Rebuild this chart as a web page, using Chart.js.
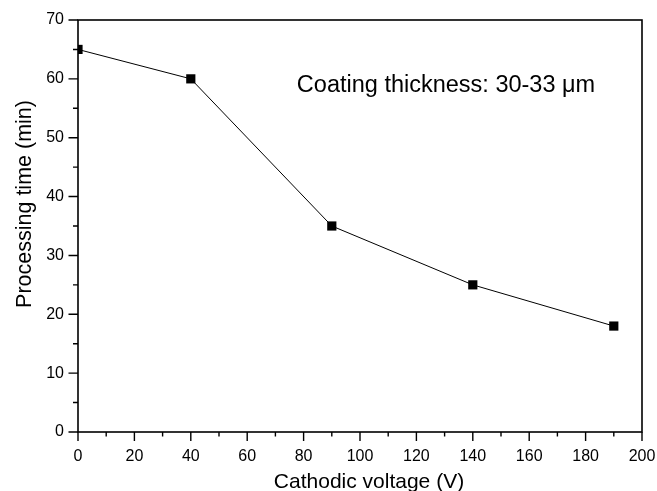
<!DOCTYPE html>
<html>
<head>
<meta charset="utf-8">
<script src="https://cdn.jsdelivr.net/npm/chart.js@4"></script>
<style>
  html, body { margin: 0; padding: 0; background: #fff; }
  #wrap { width: 657px; height: 491px; }
</style>
</head>
<body>
<div id="wrap"><canvas id="chart" width="657" height="491"></canvas></div>
<script>
const voltage = [0, 40, 90, 140, 190];
const procTime = [65, 60, 35, 25, 18];
const xTitle = 'Cathodic voltage (V)';
const yTitle = 'Processing time (min)';
const note = 'Coating thickness: 30-33 μm';

const FONT = '"Liberation Sans", Arial, sans-serif';

// frame, ticks (major + minor), titles, note
const frame = {
  id: 'frame',
  afterDraw(chart) {
    const {ctx, chartArea: {left, right, top, bottom}} = chart;
    const xs = chart.scales.x, ys = chart.scales.y;
    ctx.save();
    ctx.strokeStyle = '#000';
    ctx.lineWidth = 1.6;
    ctx.strokeRect(left, top, right - left, bottom - top);

    ctx.lineWidth = 1.4;
    ctx.beginPath();
    for (let v = 0; v <= 200; v += 10) {
      const px = xs.getPixelForValue(v);
      const len = v % 20 === 0 ? 9 : 4.5;
      ctx.moveTo(px, bottom);
      ctx.lineTo(px, bottom + len);
    }
    for (let v = 0; v <= 70; v += 5) {
      const py = ys.getPixelForValue(v);
      const len = v % 10 === 0 ? 9.5 : 5;
      ctx.moveTo(left, py);
      ctx.lineTo(left - len, py);
    }
    ctx.stroke();

    ctx.fillStyle = '#000';
    ctx.font = '21px ' + FONT;
    ctx.textAlign = 'center';
    ctx.textBaseline = 'alphabetic';
    ctx.fillText(xTitle, 369, 488);

    ctx.save();
    ctx.font = '21.5px ' + FONT;
    ctx.translate(31, 204);
    ctx.rotate(-Math.PI / 2);
    ctx.fillText(yTitle, 0, 0);
    ctx.restore();

    ctx.font = '23.5px ' + FONT;
    ctx.textBaseline = 'middle';
    ctx.fillText(note, 446, 86);
    ctx.restore();
  }
};

new Chart(document.getElementById('chart'), {
  type: 'scatter',
  data: {
    datasets: [{
      data: voltage.map((v, i) => ({x: v, y: procTime[i]})),
      showLine: true,
      borderColor: '#000',
      borderWidth: 1,
      pointStyle: 'rect',
      pointRadius: 6.5,
      pointHoverRadius: 6.5,
      pointBackgroundColor: '#000',
      pointBorderWidth: 0,
      clip: 0
    }]
  },
  options: {
    responsive: false,
    animation: false,
    events: [],
    layout: { padding: { left: 0, top: 20, right: 15, bottom: 0 } },
    plugins: { legend: { display: false }, tooltip: { enabled: false } },
    scales: {
      x: {
        type: 'linear', min: 0, max: 200,
        grid: { display: false, drawTicks: false }, border: { display: false },
        ticks: { stepSize: 20, padding: 15, color: '#000', font: { family: FONT, size: 16 } },
        afterFit(s) { s.height = 59; s.paddingLeft = 0; s.paddingRight = 0; }
      },
      y: {
        type: 'linear', min: 0, max: 70,
        grid: { display: false, drawTicks: false }, border: { display: false },
        ticks: { stepSize: 10, padding: 14, color: '#000', font: { family: FONT, size: 16 } },
        afterFit(s) { s.width = 78; s.paddingTop = 0; s.paddingBottom = 0; }
      }
    }
  },
  plugins: [frame]
});
</script>
</body>
</html>
